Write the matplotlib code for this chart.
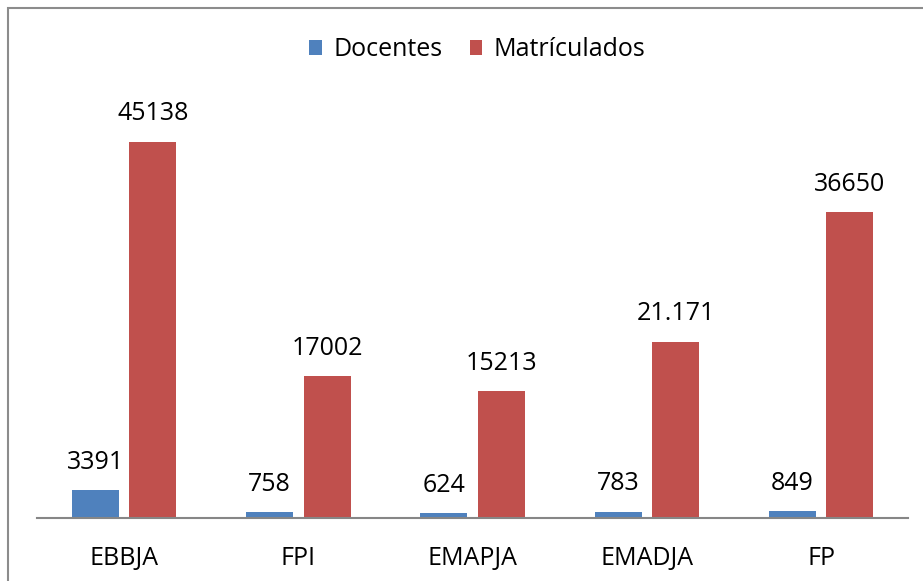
import numpy as np
import matplotlib.pyplot as plt
from matplotlib.patches import Rectangle

plt.rcParams['font.family'] = ['Open Sans', 'DejaVu Sans']

categorias = ['EBBJA', 'FPI', 'EMAPJA', 'EMADJA', 'FP']
docentes = [3391, 758, 624, 783, 849]
matriculados = [45138, 17002, 15213, 21171, 36650]
etiquetas_doc = ['3391', '758', '624', '783', '849']
etiquetas_mat = ['45138', '17002', '15213', '21.171', '36650']

azul = '#4F81BD'
rojo = '#C0504D'

fig = plt.figure(figsize=(9.23, 5.81), dpi=100)
ax = fig.add_axes([0.040, 0.108, 0.944, 0.718])

x = np.arange(len(categorias))
w = 0.27
b1 = ax.bar(x - 0.165, docentes, w, color=azul, label='Docentes')
b2 = ax.bar(x + 0.165, matriculados, w, color=rojo, label='Matrículados')

for bars, labs in [(b1, etiquetas_doc), (b2, etiquetas_mat)]:
    for r, t in zip(bars, labs):
        ax.annotate(t, (r.get_x() + r.get_width() / 2, r.get_height()),
                    xytext=(0, 11), textcoords='offset points',
                    ha='center', va='bottom', fontsize=18)

ax.set_xlim(-0.5, len(categorias) - 0.5)
ax.set_ylim(0, 50000)
ax.set_xticks(x)
ax.set_xticklabels(categorias, fontsize=18)
ax.tick_params(axis='x', length=0, pad=20)
ax.set_yticks([])
for s in ['top', 'right', 'left']:
    ax.spines[s].set_visible(False)
ax.spines['bottom'].set_color('#868686')
ax.spines['bottom'].set_linewidth(1.5)

fig.legend(loc='center', bbox_to_anchor=(0.517, 0.914), ncol=2, frameon=False,
           fontsize=18, handlelength=0.5, handleheight=0.5, handletextpad=0.45,
           columnspacing=1.1)

# marco del gráfico
fig.patches.append(Rectangle((8 / 923, -0.1), 1.0, (581 - 8) / 581 + 0.1,
                             transform=fig.transFigure, fill=False,
                             edgecolor='#8c8c8c', linewidth=1.5))

fig.savefig('out.png', dpi=100)
